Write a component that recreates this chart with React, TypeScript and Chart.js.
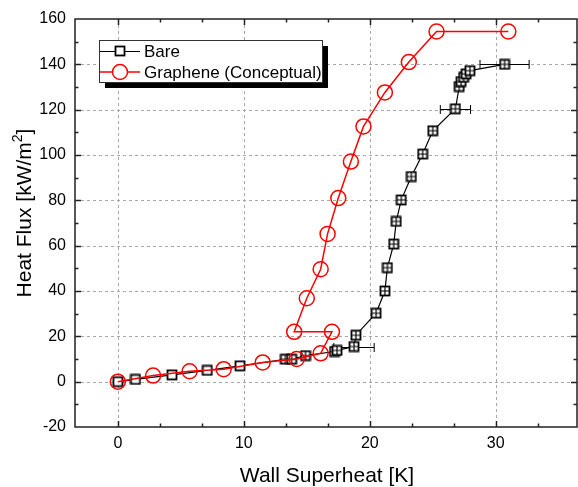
import React, { useEffect, useRef } from 'react';
import { Chart, registerables } from 'chart.js';

Chart.register(...registerables);

// ---------- data ----------
const bareX = [0, 1.4, 4.3, 7.1, 9.7, 13.3, 13.8, 14.9, 17.2, 17.4, 18.75, 18.9, 20.5, 21.2, 21.4, 21.9, 22.1, 22.5, 23.3, 24.2, 25.0, 26.8, 27.1, 27.25, 27.45, 27.65, 27.95, 30.7];
const bareY = [0, 1, 3, 5, 7, 9.9, 9.9, 11.5, 13.3, 13.8, 15.5, 20.5, 30.2, 40, 50.3, 60.7, 70.7, 80.2, 90.5, 100.4, 110.7, 120.4, 130.2, 132.4, 134.3, 135.8, 137.2, 140];
const bareXErr = [0, 0, 0, 0, 0, 0, 0, 0, 0, 0, 1.6, 0, 0, 0, 0, 0, 0, 0, 0, 0, 0, 1.2, 0, 0, 0, 0, 0, 1.95];

const grapheneX = [0, 2.8, 5.7, 8.4, 11.5, 14.2, 16.1, 17.0, 14.0, 15.0, 16.1, 16.65, 17.5, 18.5, 19.5, 21.2, 23.1, 25.3, 31.0];
const grapheneY = [0, 2.7, 4.6, 5.5, 8.5, 10.0, 12.5, 22, 22, 36.8, 49.6, 65.2, 81, 97.1, 112.6, 127.6, 141, 154.5, 154.5];

const seriesNames = ['Bare', 'Graphene (Conceptual)'];

const xTicks = [0, 10, 20, 30];
const xMinorTicks = [3.333, 6.667, 13.333, 16.667, 23.333, 26.667, 33.333];
const yTicks = [-20, 0, 20, 40, 60, 80, 100, 120, 140, 160];
const yMinorTicks = [-10, 10, 30, 50, 70, 90, 110, 130, 150];

const xTitle = 'Wall Superheat [K]';
const yTitleMain = 'Heat Flux [kW/m';
const yTitleSup = '2';
const yTitleEnd = ']';

const FONT = "'Liberation Sans', Arial, Helvetica, sans-serif";
const RED = '#ff0000';

function makeSquare(crossed: boolean): HTMLCanvasElement {
  const c = document.createElement('canvas');
  c.width = 12;
  c.height = 12;
  const g = c.getContext('2d')!;
  g.fillStyle = '#fff';
  g.fillRect(1, 1, 10, 10);
  g.strokeStyle = '#000';
  g.lineWidth = 1.8;
  g.strokeRect(1.5, 1.5, 9, 9);
  if (crossed) {
    g.lineWidth = 1.2;
    g.beginPath();
    g.moveTo(6, 2);
    g.lineTo(6, 10);
    g.moveTo(2, 6);
    g.lineTo(10, 6);
    g.stroke();
  }
  return c;
}

export default function App() {
  const ref = useRef<HTMLCanvasElement | null>(null);

  useEffect(() => {
    document.body.style.margin = '0';
    const canvas = ref.current;
    if (!canvas) return;

    const plainSq = makeSquare(false);
    const crossSq = makeSquare(true);

    const line = (ctx: CanvasRenderingContext2D, x1: number, y1: number, x2: number, y2: number) => {
      ctx.beginPath();
      ctx.moveTo(x1, y1);
      ctx.lineTo(x2, y2);
      ctx.stroke();
    };

    const decor = {
      id: 'decor',
      beforeDatasetsDraw(chart: any) {
        const { ctx, chartArea: a, scales } = chart;
        const sx = scales.x;
        const sy = scales.y;
        ctx.save();
        // grid
        ctx.strokeStyle = '#a8a8a8';
        ctx.lineWidth = 1;
        ctx.setLineDash([3, 3]);
        for (const v of xTicks) {
          const px = Math.round(sx.getPixelForValue(v)) + 0.5;
          line(ctx, px, a.top, px, a.bottom);
        }
        for (const v of yTicks) {
          const py = Math.round(sy.getPixelForValue(v)) + 0.5;
          if (py <= a.top + 1 || py >= a.bottom - 1) continue;
          line(ctx, a.left, py, a.right, py);
        }
        ctx.setLineDash([]);
        // error bars
        ctx.strokeStyle = '#000';
        ctx.lineWidth = 1;
        bareX.forEach((xv, i) => {
          const e = bareXErr[i];
          if (!e) return;
          const py = Math.round(sy.getPixelForValue(bareY[i])) + 0.5;
          const x1 = sx.getPixelForValue(xv - e);
          const x2 = sx.getPixelForValue(xv + e);
          line(ctx, x1, py, x2, py);
          line(ctx, x1, py - 4.5, x1, py + 4.5);
          line(ctx, x2, py - 4.5, x2, py + 4.5);
        });
        ctx.restore();
      },
      afterDatasetsDraw(chart: any) {
        const { ctx, chartArea: a, scales } = chart;
        const sx = scales.x;
        const sy = scales.y;
        ctx.save();
        ctx.strokeStyle = '#222';
        ctx.lineWidth = 1.5;
        ctx.strokeRect(a.left, a.top, a.right - a.left, a.bottom - a.top);
        const major = 6;
        const minor = 3.5;
        for (const [vals, len] of [[xTicks, major], [xMinorTicks, minor]] as [number[], number][]) {
          for (const v of vals) {
            const px = Math.round(sx.getPixelForValue(v)) + 0.5;
            if (px <= a.left + 1 || px >= a.right - 1) continue;
            line(ctx, px, a.bottom, px, a.bottom - len);
            line(ctx, px, a.top, px, a.top + len);
          }
        }
        for (const [vals, len] of [[yTicks, major], [yMinorTicks, minor]] as [number[], number][]) {
          for (const v of vals) {
            const py = Math.round(sy.getPixelForValue(v)) + 0.5;
            if (py <= a.top + 1 || py >= a.bottom - 1) continue;
            line(ctx, a.left, py, a.left + len, py);
            line(ctx, a.right, py, a.right - len, py);
          }
        }
        ctx.restore();
      },
      afterDraw(chart: any) {
        const { ctx, chartArea: a } = chart;
        ctx.save();
        ctx.fillStyle = '#000';
        // x title
        ctx.font = `21px ${FONT}`;
        ctx.textAlign = 'center';
        ctx.textBaseline = 'middle';
        ctx.fillText(xTitle, (a.left + a.right) / 2 + 1, 476);
        // y title with superscript
        ctx.save();
        ctx.translate(23, 213);
        ctx.rotate(-Math.PI / 2);
        ctx.textAlign = 'left';
        ctx.textBaseline = 'alphabetic';
        ctx.font = `21px ${FONT}`;
        const w1 = ctx.measureText(yTitleMain).width;
        const w3 = ctx.measureText(yTitleEnd).width;
        ctx.font = `14px ${FONT}`;
        const w2 = ctx.measureText(yTitleSup).width;
        const start = -(w1 + w2 + w3) / 2;
        ctx.font = `21px ${FONT}`;
        ctx.fillText(yTitleMain, start, 7.5);
        ctx.fillText(yTitleEnd, start + w1 + w2, 7.5);
        ctx.font = `14px ${FONT}`;
        ctx.fillText(yTitleSup, start + w1, -1);
        ctx.restore();

        // legend
        const bx = 99, by = 40, bw = 223, bh = 42;
        ctx.fillStyle = '#000';
        ctx.fillRect(bx + 6, by + 6, bw, bh);
        ctx.fillStyle = '#fff';
        ctx.fillRect(bx, by, bw, bh);
        ctx.strokeStyle = '#333';
        ctx.lineWidth = 1;
        ctx.strokeRect(bx + 0.5, by + 0.5, bw, bh);
        const rows = [51, 72];
        // Bare
        ctx.strokeStyle = '#000';
        ctx.lineWidth = 1.2;
        line(ctx, 100, rows[0] + 0.5, 140, rows[0] + 0.5);
        ctx.drawImage(plainSq, 120 - 6, rows[0] - 6);
        // Graphene
        ctx.strokeStyle = RED;
        ctx.lineWidth = 1.5;
        line(ctx, 100, rows[1], 140, rows[1]);
        ctx.fillStyle = '#fff';
        ctx.beginPath();
        ctx.arc(120, rows[1], 7.5, 0, Math.PI * 2);
        ctx.fill();
        ctx.stroke();
        ctx.fillStyle = '#000';
        ctx.font = `17px ${FONT}`;
        ctx.textAlign = 'left';
        ctx.textBaseline = 'middle';
        ctx.fillText(seriesNames[0], 144, rows[0] + 1);
        ctx.fillText(seriesNames[1], 144, rows[1] + 1);
        ctx.restore();
      },
    };

    const bareData = bareX.map((x, i) => ({ x, y: bareY[i] }));
    const grData = grapheneX.map((x, i) => ({ x, y: grapheneY[i] }));

    const chart = new Chart(canvas, {
      type: 'scatter',
      data: {
        datasets: [
          {
            label: seriesNames[0],
            data: bareData,
            showLine: true,
            borderColor: '#000',
            borderWidth: 1.2,
            pointStyle: (c: any) => {
              const raw = c.raw;
              return raw && raw.y >= 9 ? crossSq : plainSq;
            },
            pointRadius: 6,
            order: 1,
          } as any,
          {
            label: seriesNames[1],
            data: grData,
            showLine: true,
            borderColor: RED,
            borderWidth: 1.5,
            pointStyle: 'circle',
            pointRadius: 7.5,
            pointBorderWidth: 1.5,
            pointBorderColor: RED,
            pointBackgroundColor: 'rgba(0,0,0,0)',
            order: 0,
          } as any,
        ],
      },
      options: {
        responsive: false,
        animation: false,
        layout: { autoPadding: false, padding: { top: 19, right: 1, left: 0, bottom: 0 } },
        plugins: {
          legend: { display: false },
          tooltip: { enabled: false },
        },
        scales: {
          x: {
            type: 'linear',
            min: -3.4,
            max: 36.45,
            grid: { display: false, drawTicks: false },
            border: { display: false },
            ticks: { font: { family: FONT, size: 16 }, color: '#000', padding: 7 },
            afterBuildTicks: (s: any) => {
              s.ticks = xTicks.map((v) => ({ value: v }));
            },
            afterFit: (s: any) => {
              s.height = 60;
              s.paddingLeft = 0;
              s.paddingRight = 0;
            },
          },
          y: {
            type: 'linear',
            min: -20,
            max: 160,
            grid: { display: false, drawTicks: false },
            border: { display: false },
            ticks: { font: { family: FONT, size: 16 }, color: '#000', padding: 9 },
            afterBuildTicks: (s: any) => {
              s.ticks = yTicks.map((v) => ({ value: v }));
            },
            afterFit: (s: any) => {
              s.width = 75;
              s.paddingTop = 0;
              s.paddingBottom = 0;
            },
          },
        },
      } as any,
      plugins: [decor],
    });

    return () => chart.destroy();
  }, []);

  return (
    <div style={{ position: 'absolute', left: 0, top: 0, width: 578, height: 487, background: '#fff' }}>
      <canvas ref={ref} width={578} height={487} style={{ display: 'block', width: 578, height: 487 }} />
    </div>
  );
}
